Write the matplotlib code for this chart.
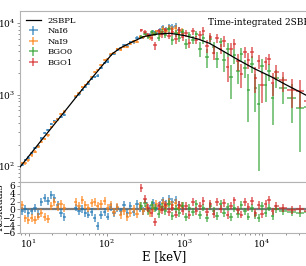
import matplotlib
matplotlib.use("Agg")
import matplotlib.pyplot as plt
import numpy as np

plt.rcParams["font.family"] = ["DejaVu Serif"]
plt.rcParams["mathtext.fontset"] = "dejavuserif"

# model curve (2SBPL)
model_e = [7.7, 10, 15, 20, 30, 48, 71, 100, 120, 150, 200, 300, 450, 650,
           1000, 1500, 2100, 3000, 5000, 8000, 13000, 20000, 30000, 40000]
model_f = [97, 138, 240, 353, 610, 1160, 1920, 3000, 3760, 4470, 5250, 6460,
           7000, 7180, 6680, 5960, 5200, 4170, 3020, 2290, 1780, 1380, 1100, 930]

# NaI detectors
nai_e = [8.2, 9.0, 9.9, 10.9, 12.0, 13.2, 14.5, 16.0, 17.6, 19.4, 21.3, 23.5,
         25.9, 28.5, 40, 44, 48.5, 53, 58, 64, 70, 77, 85, 94, 103, 113, 125,
         138, 152, 167, 184, 202, 222, 245, 270, 297, 327, 360, 396, 436, 480,
         528, 580, 640, 700, 770, 850, 920]
nai_err = [4.2, 4.8, 5.4, 6.2, 7.1, 8.0, 9.1, 10.4, 11.8, 13.5, 15.3, 17.5,
           20, 22.7, 31, 36, 41, 46, 52, 59, 67, 76, 87, 100, 125, 140, 155,
           168, 180, 190, 200, 211, 277, 291, 306, 322, 329, 469, 478, 488,
           703, 708, 713, 718, 923, 907, 893, 881]
nai6_f = [105, 121, 131, 152, 179, 191, 244, 291, 322, 387, 429, 459, 483, 523,
          913, 1005, 1172, 1273, 1412, 1655, 1762, 1842, 2348, 2773, 2895,
          3574, 3740, 4257, 4410, 4954, 4810, 5439, 5364, 6227, 6202, 6301,
          6899, 6794, 7595, 7214, 7874, 8708, 8200, 9047, 8761, 9158, 7942, 7485]
nai9_f = [111, 109, 121, 141, 159, 187, 219, 240, 268, 349, 411, 449, 529, 577,
          954, 1051, 1262, 1365, 1500, 1785, 2043, 2229, 2608, 3052, 3157,
          3644, 3787, 4307, 4248, 4688, 4609, 5101, 5585, 5471, 6385, 6269,
          6767, 6278, 7021, 7604, 7171, 8284, 7700, 8616, 8115, 8432, 7317, 7661]
nai6_res = [-0.3, 0.2, -1.0, -0.5, 0.3, -1.2, 1.8, 3.0, 2.2, 3.6, 3.0, 1.2,
            -0.8, -2.0, 0.5, -0.4, 0.2, -0.8, -1.3, -0.6, -2.2, -4.3, -1.5,
            -0.7, -1.8, 0.6, -0.9, 0.4, -0.5, 1.1, -1.0, 0.8, -0.6, 1.4, 0.3,
            -0.4, 1.0, 0.2, 1.6, 0.5, 1.2, 2.3, 1.5, 2.6, 1.8, 2.4, 1.2, 0.8]
nai9_res = [1.2, -2.3, -2.8, -2.2, -2.6, -1.8, -1.0, -1.9, -2.4, 0.8, 1.8, 0.6,
            1.5, 0.4, 1.8, 0.9, 2.4, 1.2, 0.4, 1.6, 2.0, 0.8, 1.5, 2.1, 0.3,
            1.1, -0.6, 0.7, -1.4, -0.3, -2.0, -0.8, 0.2, -1.2, 0.9, -0.5, 0.6,
            -0.9, 0.4, 1.3, 0.2, 1.7, 0.8, 2.0, 1.1, 1.6, 0.5, 1.0]

# BGO detectors
bgo_e = [280, 310, 345, 380, 420, 465, 515, 570, 630, 700, 775, 860, 950,
         1050, 1160, 1290, 1430, 1580, 1750, 1940, 2150, 2380, 2640, 2920,
         3240, 3590, 3980, 4400, 4880, 5400, 6000, 6650, 7350, 8150, 9000,
         10000, 11100, 12300, 13600, 15000, 18500, 24000, 31000, 38000]
bgo_err = [311, 390, 465, 542, 622, 701, 707, 711, 717, 852, 838, 824, 810,
           791, 769, 746, 726, 1049, 1008, 967, 923, 866, 812, 763, 993, 930,
           873, 820, 770, 723, 678, 765, 723, 681, 648, 612, 582, 549, 519,
           489, 504, 496, 486, 480]
bgo0_f = [6469, 7124, 6408, 7420, 7097, 6239, 7494, 6826, 8174, 5737, 7148,
          6211, 7560, 5087, 6718, 5772, 6994, 4361, 6104, 3339, 5961, 4550,
          3130, 5385, 3076, 4278, 1744, 3526, 2156, 3685, 2371, 1173, 2699,
          1249, 734, 2530, 1358, 2105, 900, 1728, 1238, 893, 643, 672]
bgo1_f = [7899, 7514, 6826, 6228, 4857, 7641, 6929, 7892, 6668, 7526, 5891,
          7859, 6426, 7223, 5257, 7637, 5832, 6774, 7818, 4790, 6422, 3857,
          6134, 4393, 5559, 2418, 4363, 5166, 2926, 1950, 3930, 3009, 3928,
          1725, 2938, 1367, 2813, 3148, 1471, 2070, 1591, 1141, 1129, 816]
bgo0_res = [0.8, 1.6, -0.5, 1.2, 0.3, -1.1, 0.6, -0.4, 1.4, -1.6, 0.2, -0.8,
            1.0, -1.9, 0.4, -0.6, 1.3, -1.4, 0.5, -2.1, 0.9, -0.3, -1.7, 1.5,
            -0.9, 0.6, -2.0, 0.3, -1.2, 1.1, -0.5, -1.8, 0.4, -1.5, -2.2, 0.8,
            -1.0, 0.5, -1.6, 0.2, -0.4, -0.7, -0.9, -0.6]
bgo1_res = [5.4, 2.6, 0.4, -1.0, -3.3, 0.9, -0.2, 1.1, -0.7, 0.5, -1.3, 1.2,
            -0.4, 0.8, -1.5, 1.9, -0.3, 0.9, 2.2, -0.6, 1.4, -1.1, 2.0, 0.2,
            1.6, -1.4, 1.0, 2.3, -0.2, -1.3, 1.8, 0.6, 2.1, -0.8, 1.2, -1.1,
            1.5, 2.4, -0.5, 0.9, 0.3, -0.2, 0.1, -0.3]


def bin_xerr(e, cap):
    le = np.log10(e)
    gaps = np.diff(le)
    lo = np.minimum(np.r_[gaps[0], gaps] / 2, cap)
    hi = np.minimum(np.r_[gaps, gaps[-1]] / 2, cap)
    e = np.asarray(e, float)
    return [e - e * 10 ** (-lo), e * 10 ** hi - e]


fig = plt.figure(figsize=(3.06, 2.66), dpi=100)
ax = fig.add_axes([20 / 306, 1 - 182 / 266, 289 / 306, 171 / 266])
axr = fig.add_axes([20 / 306, 1 - 233 / 266, 289 / 306, 51 / 266], sharex=ax)

detectors = [
    ("NaI6", nai_e, nai6_f, nai_err, nai6_res, "C0", 0.025),
    ("NaI9", nai_e, nai9_f, nai_err, nai9_res, "C1", 0.025),
    ("BGO0", bgo_e, bgo0_f, bgo_err, bgo0_res, "C2", 0.06),
    ("BGO1", bgo_e, bgo1_f, bgo_err, bgo1_res, "C3", 0.06),
]

ax.plot(model_e, model_f, color="k", lw=0.9, label="2SBPL", zorder=5)
for name, e, f, err, res, c, cap in detectors:
    xe = bin_xerr(e, cap)
    ax.errorbar(e, f, xerr=xe, yerr=err, fmt="none", ecolor=c,
                elinewidth=1.1, alpha=0.75, label=name)
    axr.errorbar(e, res, xerr=xe, yerr=1, fmt="none", ecolor=c,
                 elinewidth=1.1, alpha=0.75)
axr.axhline(0, color="0.35", lw=1.6, alpha=0.8, zorder=0)

ax.set_xscale("log")
ax.set_yscale("log")
ax.set_xlim(7.7, 4e4)
ax.set_ylim(60, 1.47e4)
axr.set_ylim(-6, 7)
axr.set_yticks([-6, -4, -2, 0, 2, 4, 6])

ax.tick_params(labelbottom=False)
for a in (ax, axr):
    a.tick_params(which="both", labelsize=6.5, length=2.5, width=0.6,
                  color="0.5", pad=1)
    a.tick_params(which="minor", length=1.5)
    for s in a.spines.values():
        s.set_color("0.7")

ax.set_ylabel(r"$\nu F_{\nu}$ [keV$^2$ cm$^{-2}$ s$^{-1}$ keV$^{-1}$]",
              fontsize=7)
ax.yaxis.set_label_coords(-0.064, 0.5)
axr.set_ylabel("Residuals", fontsize=7)
axr.yaxis.set_label_coords(-0.054, 0.5)
axr.set_xlabel("E [keV]", fontsize=8.5, labelpad=0)

ax.legend(loc="upper left", frameon=False, fontsize=6, handlelength=1.8,
          borderaxespad=0.3, labelspacing=0.3)
ax.text(0.65, 0.935, "Time-integrated 2SBPL", transform=ax.transAxes,
        fontsize=6.5, ha="left", va="center")

fig.savefig("out.png", dpi=100)
